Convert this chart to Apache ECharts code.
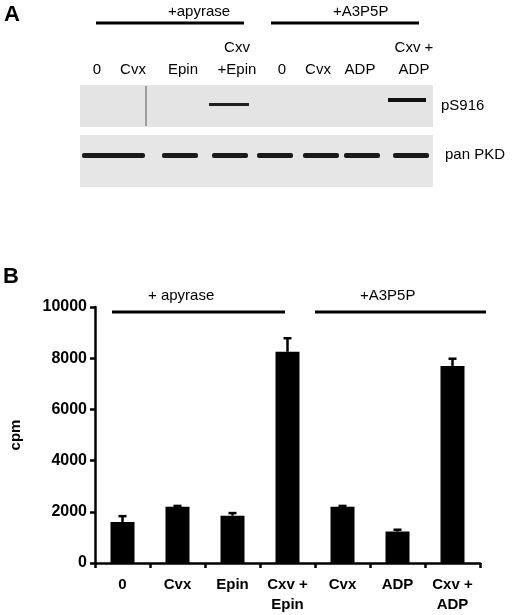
<!DOCTYPE html>
<html><head><meta charset="utf-8">
<script src="https://cdn.jsdelivr.net/npm/echarts@6/dist/echarts.min.js"></script>
<style>html,body{margin:0;background:#fff}#c{width:520px;height:615px}</style>
</head><body><div id="c"></div>
<script>
var categories = ['0', 'Cvx', 'Epin', 'Cxv +\nEpin', 'Cvx', 'ADP', 'Cxv +\nADP'];
var cpm = [1600, 2200, 1850, 8250, 2200, 1230, 7700];
var errUpper = [1830, 2230, 1950, 8780, 2230, 1300, 7980];
var yTicks = [0, 2000, 4000, 6000, 8000, 10000];
var blotLanes = ['0', 'Cvx', 'Epin', 'Cxv\n+Epin', '0', 'Cvx', 'ADP', 'Cxv +\nADP'];

var chart = echarts.init(document.getElementById('c'));
var F = 'Liberation Sans, Arial, sans-serif';
var g = [];
function txt(x, y, s, size, bold, align) {
  g.push({type:'text', x:x, y:y, style:{text:s, font:(bold?'bold ':'')+size+'px '+F, fill:'#000', align:align||'left', verticalAlign:'middle', lineHeight:size+2}});
}
function line(x1, y1, x2, y2, w) {
  g.push({type:'line', shape:{x1:x1,y1:y1,x2:x2,y2:y2}, style:{stroke:'#000', lineWidth:w||2.5}});
}
// Panel A
txt(4, 15, 'A', 22, true);
txt(168, 12, '+apyrase', 15); line(96, 23, 244, 23, 3);
txt(333, 12, '+A3P5P', 15); line(271, 23, 419, 23, 3);
var laneX = [97, 133, 183, 237, 282, 318, 360, 414];
blotLanes.forEach(function(l, i){
  var lines = l.split('\n');
  if (lines.length > 1) { txt(laneX[i], 48, lines[0], 15, false, 'center'); txt(laneX[i], 70, lines[1], 15, false, 'center'); }
  else txt(laneX[i], 70, l, 15, false, 'center');
});
g.push({type:'rect', shape:{x:80,y:85,width:353,height:42}, style:{fill:'#e4e4e4'}});
g.push({type:'rect', shape:{x:80,y:135,width:353,height:52}, style:{fill:'#e6e6e6'}});
g.push({type:'rect', shape:{x:209,y:103,width:40,height:3}, style:{fill:'#222'}});
g.push({type:'rect', shape:{x:388,y:98,width:38,height:4}, style:{fill:'#111'}});
g.push({type:'line', shape:{x1:146,y1:86,x2:146,y2:126}, style:{stroke:'#555', lineWidth:1}});
var pkdX = [100, 127, 180, 230, 275, 321, 362, 411];
pkdX.forEach(function(x){ g.push({type:'rect', shape:{x:x-18,y:153,width:36,height:5,r:2}, style:{fill:'#1a1a1a'}}); });
txt(441, 106, 'pS916', 15); txt(445, 155, 'pan PKD', 15);
// Panel B
txt(3, 277, 'B', 22, true);
txt(148, 296, '+ apyrase', 15); line(112, 312, 285, 312, 3);
txt(360, 296, '+A3P5P', 15); line(315, 312, 486, 312, 3);

chart.setOption({
  animation:false,
  graphic: g,
  grid:{left:88, right:40, top:307, bottom:52},
  xAxis:{type:'category', data:categories, boundaryGap:true,
    axisLine:{lineStyle:{color:'#000', width:2.5}},
    axisTick:{show:true, length:5, lineStyle:{color:'#000', width:2.5}},
    axisLabel:{color:'#000', fontFamily:F, fontWeight:'bold', fontSize:15, margin:12, lineHeight:20, interval:0}},
  yAxis:{type:'value', min:0, max:10000, interval:2000, name:'cpm', nameLocation:'middle', nameGap:72,
    nameTextStyle:{color:'#000', fontFamily:F, fontWeight:'bold', fontSize:15},
    axisLine:{show:true, lineStyle:{color:'#000', width:2.5}},
    axisTick:{show:true, length:5, lineStyle:{color:'#000', width:2.5}},
    splitLine:{show:false},
    axisLabel:{color:'#000', fontFamily:F, fontWeight:'bold', fontSize:16, margin:8,
      formatter:function(v){return yTicks.indexOf(v) >= 0 ? String(v) : '';}}},
  series:[
    {type:'bar', data:cpm, barWidth:24, itemStyle:{color:'#000'}},
    {type:'custom', data:errUpper.map(function(u,i){return [i, cpm[i], u];}),
      renderItem:function(p, api){
        var b = api.coord([api.value(0), api.value(1)]);
        var t = api.coord([api.value(0), api.value(2)]);
        return {type:'group', children:[
          {type:'line', shape:{x1:b[0],y1:b[1],x2:t[0],y2:t[1]}, style:{stroke:'#000', lineWidth:2.5}},
          {type:'line', shape:{x1:t[0]-4,y1:t[1],x2:t[0]+4,y2:t[1]}, style:{stroke:'#000', lineWidth:2.5}}
        ]};
      }, z:1}
  ]
});
</script></body></html>
